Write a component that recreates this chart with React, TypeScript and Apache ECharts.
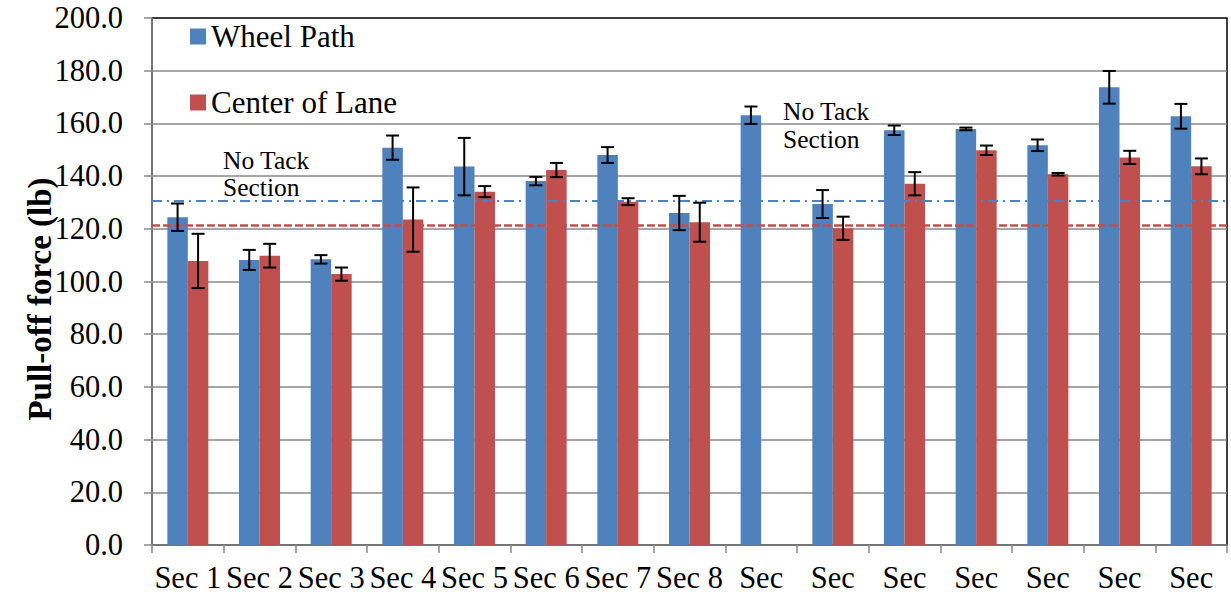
import { useEffect, useRef } from "react";
import * as echarts from "echarts";

// Sections along the test road
const sections = [
  "Sec 1", "Sec 2", "Sec 3", "Sec 4", "Sec 5", "Sec 6", "Sec 7", "Sec 8",
  "Sec 9", "Sec 10", "Sec 11", "Sec 12", "Sec 13", "Sec 14", "Sec 15",
];
// Labels as printed under the axis (long names are cut to one line)
const tickLabels = [
  "Sec 1", "Sec 2", "Sec 3", "Sec 4", "Sec 5", "Sec 6", "Sec 7", "Sec 8",
  "Sec", "Sec", "Sec", "Sec", "Sec", "Sec", "Sec",
];

// Mean pull-off force (lb) and standard deviation
const wheelPath = [124.4, 108.2, 108.4, 150.8, 143.6, 138.1, 148.0, 126.0, 163.1, 129.4, 157.4, 157.9, 151.7, 173.7, 162.7];
const wheelPathErr = [5.2, 3.8, 1.6, 4.6, 10.9, 1.6, 3.0, 6.5, 3.3, 5.3, 1.8, 0.5, 2.2, 6.2, 4.7];
const centerLane = [107.8, 109.8, 102.8, 123.5, 134.1, 142.3, 130.3, 122.5, null, 120.2, 137.1, 149.8, 140.7, 147.1, 143.7];
const centerLaneErr = [10.3, 4.5, 2.5, 12.2, 2.1, 2.7, 1.3, 7.4, null, 4.4, 4.4, 1.8, 0.5, 2.5, 3.0];

// Reference levels
const wheelPathRef = 130.5;
const centerLaneRef = 121.2;

// Value axis
const yMin = 0;
const yMax = 200;
const yStep = 20;

const BLUE = "#4F81BD";
const RED = "#C0504D";
const GRID_GRAY = "#898989";
const FONT = "Liberation Serif";
const BAR_WIDTH = 20.5;

function errorBars(values: (number | null)[], errs: (number | null)[], side: number, markLine: any) {
  const data: number[][] = [];
  values.forEach((v, i) => {
    const e = errs[i];
    if (v == null || e == null) return;
    data.push([i, v - e, v + e]);
  });
  return {
    type: "custom",
    z: 5,
    silent: true,
    data,
    encode: { x: 0, y: [1, 2] },
    renderItem: (_params: any, api: any) => {
      const idx = api.value(0);
      const lo = api.coord([idx, api.value(1)]);
      const hi = api.coord([idx, api.value(2)]);
      const x = lo[0] + (side * BAR_WIDTH) / 2;
      const cap = 6.5;
      const style = { stroke: "#000", lineWidth: 2 };
      return {
        type: "group",
        children: [
          { type: "line", shape: { x1: x, y1: hi[1], x2: x, y2: lo[1] }, style },
          { type: "line", shape: { x1: x - cap, y1: hi[1], x2: x + cap, y2: hi[1] }, style },
          { type: "line", shape: { x1: x - cap, y1: lo[1], x2: x + cap, y2: lo[1] }, style },
        ],
      };
    },
    markLine,
  };
}

export default function App() {
  const ref = useRef<HTMLDivElement>(null);

  useEffect(() => {
    if (!ref.current) return;
    const chart = echarts.init(ref.current, undefined, { renderer: "svg" });

    const legendText = { fontFamily: FONT, fontSize: 31, color: "#000" };

    const option: any = {
      animation: false,
      backgroundColor: "#fff",
      textStyle: { fontFamily: FONT },
      grid: {
        left: 152,
        right: 4,
        top: 18,
        bottom: 55,
        show: true,
        borderColor: "#000",
        borderWidth: 1.5,
        backgroundColor: "transparent",
      },
      legend: [
        {
          data: ["Wheel Path"],
          left: 190,
          top: 21,
          padding: 0,
          itemWidth: 16,
          itemHeight: 16,
          itemGap: 8,
          icon: "rect",
          textStyle: legendText,
          selectedMode: false,
        },
        {
          data: ["Center of Lane"],
          left: 190,
          top: 87,
          padding: 0,
          itemWidth: 16,
          itemHeight: 16,
          icon: "rect",
          textStyle: legendText,
          selectedMode: false,
        },
      ],
      xAxis: {
        type: "category",
        data: sections,
        boundaryGap: true,
        axisLine: { lineStyle: { color: GRID_GRAY, width: 1.5 } },
        axisTick: { show: true, length: 8, lineStyle: { color: GRID_GRAY, width: 1.5 } },
        axisLabel: {
          interval: 0,
          margin: 17,
          fontFamily: FONT,
          fontSize: 30.5,
          color: "#000",
          formatter: (_v: string, i: number) => tickLabels[i],
        },
        splitLine: { show: false },
      },
      yAxis: {
        type: "value",
        min: yMin,
        max: yMax,
        interval: yStep,
        axisLine: { show: true, lineStyle: { color: GRID_GRAY, width: 1.5 } },
        axisTick: { show: true, length: 8, lineStyle: { color: GRID_GRAY, width: 1.5 } },
        axisLabel: {
          margin: 29,
          fontFamily: FONT,
          fontSize: 30.5,
          color: "#000",
          formatter: (v: number) => v.toFixed(1),
        },
        splitLine: {
          show: true,
          showMinLine: false,
          showMaxLine: false,
          lineStyle: { color: GRID_GRAY, width: 1.5 },
        },
      },
      series: [
        {
          name: "Wheel Path",
          type: "bar",
          data: wheelPath,
          barWidth: BAR_WIDTH,
          barGap: "0%",
          itemStyle: { color: BLUE },
        },
        {
          name: "Center of Lane",
          type: "bar",
          data: centerLane,
          barWidth: BAR_WIDTH,
          barGap: "0%",
          itemStyle: { color: RED },
        },
        errorBars(wheelPath, wheelPathErr, -1, {
          silent: true,
          symbol: "none",
          label: { show: false },
          data: [{ yAxis: wheelPathRef }],
          lineStyle: { color: BLUE, width: 2, type: [10, 5, 2, 5] },
        }),
        errorBars(centerLane, centerLaneErr, 1, {
          silent: true,
          symbol: "none",
          label: { show: false },
          data: [{ yAxis: centerLaneRef }],
          lineStyle: { color: RED, width: 2.5, type: [8, 3] },
        }),
      ],
      graphic: [
        {
          type: "text",
          x: 40,
          y: 299,
          rotation: Math.PI / 2,
          style: {
            text: "Pull-off force (lb)",
            fontFamily: FONT,
            fontSize: 33,
            fontWeight: "bold",
            fill: "#000",
            align: "center",
            verticalAlign: "middle",
          },
        },
        {
          type: "text",
          x: 223,
          y: 147,
          style: {
            text: "No Tack\nSection",
            fontFamily: FONT,
            fontSize: 25.5,
            lineHeight: 27,
            fill: "#000",
            align: "left",
            verticalAlign: "top",
          },
        },
        {
          type: "text",
          x: 783,
          y: 97,
          style: {
            text: "No Tack\nSection",
            fontFamily: FONT,
            fontSize: 25.5,
            lineHeight: 28,
            fill: "#000",
            align: "left",
            verticalAlign: "top",
          },
        },
      ],
    };

    chart.setOption(option);
    return () => chart.dispose();
  }, []);

  return (
    <div
      ref={ref}
      style={{ position: "fixed", left: 0, top: 0, width: 1231, height: 600, background: "#fff" }}
    />
  );
}
